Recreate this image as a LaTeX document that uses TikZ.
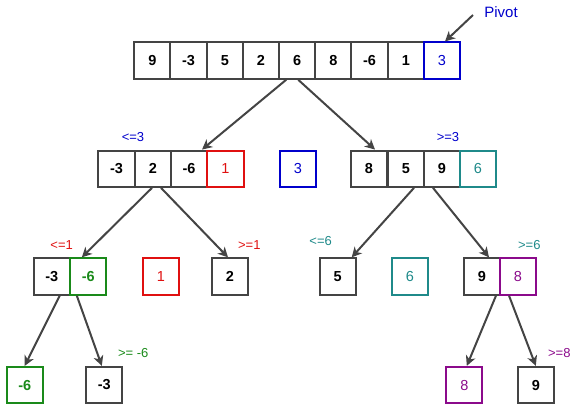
\documentclass[tikz,border=0pt]{standalone}
\usepackage{fontspec}
\setmainfont{Liberation Sans}
\usetikzlibrary{arrows.meta}
\definecolor{dk}{HTML}{444444}
\definecolor{cblue}{HTML}{0000CC}
\definecolor{cred}{HTML}{E01010}
\definecolor{cteal}{HTML}{1F8A8A}
\definecolor{cgreen}{HTML}{1A8A1A}
\definecolor{cpurple}{HTML}{8B0A8B}
\begin{document}
\begin{tikzpicture}[x=1pt,y=-1pt,
  cell/.style={draw=dk, line width=2pt, minimum width=36.3pt, minimum height=36.3pt,
    inner sep=0pt, fill=white, font=\fontsize{14.5}{16}\selectfont\bfseries},
  ccell/.style={cell, draw=#1, text=#1, font=\fontsize{14.5}{16}\selectfont},
  gcell/.style={cell, draw=#1, text=#1},
  lbl/.style={font=\fontsize{13}{15}\selectfont, text=#1, inner sep=0pt},
  arr/.style={draw=dk, line width=2pt, -{Stealth[length=10pt,width=10pt,inset=3pt]}}]
\useasboundingbox (0,0) rectangle (577,410);
% top row
\foreach \v [count=\i] in {9,-3,5,2,6,8,-6,1}{
  \node[cell] (t\i) at ({152.4+36.2*(\i-1)},60.6) {\v};
}
\node[ccell=cblue] (t9) at (442,60.6) {3};
\node[lbl=cblue, font=\fontsize{15}{17}\selectfont] (pv) at (501,12) {Pivot};
\coordinate (ps) at (473,15);
% second row left
\node[cell] (l1) at (116.5,168.7) {-3};
\node[cell] (l2) at (153,168.7) {2};
\node[cell] (l3) at (189,168.7) {-6};
\node[ccell=cred] (l4) at (225.5,168.7) {1};
\node[ccell=cblue] (mid) at (298,168.7) {3};
% second row right
\node[cell] (r1) at (369,168.7) {8};
\node[cell] (r2) at (406,168.7) {5};
\node[cell] (r3) at (442,168.7) {9};
\node[ccell=cteal] (r4) at (478,168.7) {6};
% third row
\node[cell] (m1) at (51.7,276.5) {-3};
\node[gcell=cgreen] (m2) at (88.3,276.5) {-6};
\node[ccell=cred] (n1) at (160.8,276.5) {1};
\node[cell] (n2) at (230,276.5) {2};
\node[cell] (p5) at (337.7,276.5) {5};
\node[ccell=cteal] (p6) at (410,276.5) {6};
\node[cell] (p9) at (482,276.5) {9};
\node[ccell=cpurple] (p8) at (518,276.5) {8};
% fourth row
\node[gcell=cgreen] (q1) at (24.7,385) {-6};
\node[cell] (q2) at (104.3,385) {-3};
\node[ccell=cpurple] (q3) at (464.3,385) {8};
\node[cell] (q4) at (535.8,385) {9};
% labels
\node[lbl=cblue] at (133,137) {<=3};
\node[lbl=cblue] at (448,136.7) {>=3};
\node[lbl=cred] at (61.7,245) {<=1};
\node[lbl=cred] at (249.3,245) {>=1};
\node[lbl=cteal] at (320.7,240.7) {<=6};
\node[lbl=cteal] at (529.3,245) {>=6};
\node[lbl=cgreen] at (133.3,353.3) {>= -6};
\node[lbl=cpurple] at (559.3,353.3) {>=8};
% arrows
\draw[arr] (ps) -- ([xshift=3pt]t9.north);
\draw[arr] ([xshift=-11pt]t5.south) -- ([xshift=13pt]l3.north);
\draw[arr] ([xshift=1pt]t5.south) -- ([xshift=6pt]r1.north);
\draw[arr] ([xshift=-1pt]l2.south) -- ([xshift=-6.5pt]m2.north);
\draw[arr] ([xshift=8pt]l2.south) -- ([xshift=-2pt]n2.north);
\draw[arr] ([xshift=8pt]r2.south) -- ([xshift=14pt]p5.north);
\draw[arr] ([xshift=-9pt]r3.south) -- ([xshift=7pt]p9.north);
\draw[arr] ([xshift=8pt]m1.south) -- (q1.north);
\draw[arr] ([xshift=-11.5pt]m2.south) -- ([xshift=-2.5pt]q2.north);
\draw[arr] ([xshift=14pt]p9.south) -- ([xshift=2.5pt]q3.north);
\draw[arr] ([xshift=-9pt]p8.south) -- (q4.north);
\end{tikzpicture}
\end{document}
